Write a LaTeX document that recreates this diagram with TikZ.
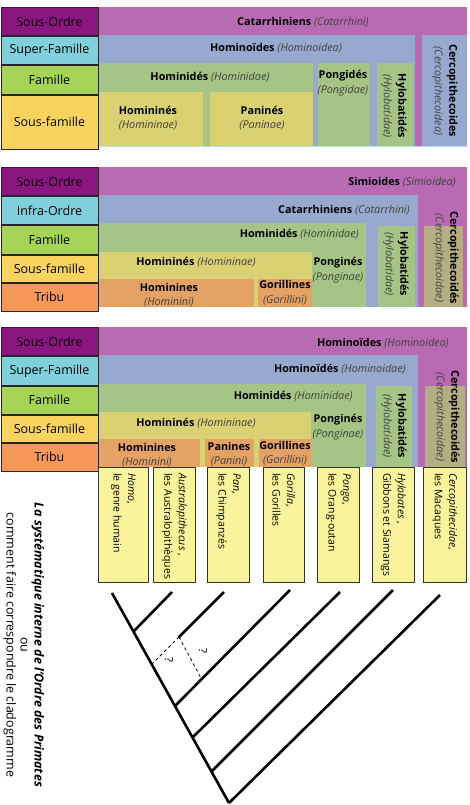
\documentclass[tikz,border=0pt]{standalone}
\usepackage{fontspec}
\setmainfont{Open Sans}
\usetikzlibrary{positioning}
\definecolor{ordrepurple}{RGB}{139,22,128}
\definecolor{superfamcyan}{RGB}{128,209,219}
\definecolor{famgreen}{RGB}{166,212,86}
\definecolor{sousfamyellow}{RGB}{248,212,94}
\definecolor{tribuorange}{RGB}{245,152,90}
\definecolor{taxpurple}{RGB}{184,106,178}
\definecolor{taxblue}{RGB}{151,169,206}
\definecolor{taxgreen}{RGB}{164,197,133}
\definecolor{taxyellow}{RGB}{217,209,114}
\definecolor{taxorange}{RGB}{228,162,100}
\definecolor{taxolive}{RGB}{181,174,130}
\definecolor{genusyellow}{RGB}{249,244,156}
\tikzset{
    rankcell/.style={rectangle, draw=black!85, fill=#1, line width=0.9pt, minimum width=97pt, minimum height=28pt, inner sep=0pt, font=\fontsize{12.5}{14}\selectfont},
    taxname/.style={font=\fontsize{10.8}{14.5}\selectfont, align=center, inner sep=1pt},
    taxvert/.style={taxname, rotate=-90},
    genusbox/.style={rectangle, draw=black!80, fill=genusyellow, line width=0.6pt, anchor=north west, minimum width=#1, minimum height=115pt, inner sep=0pt},
    genustext/.style={font=\fontsize{10.5}{14.5}\selectfont, align=left, rotate=-90, anchor=west, inner sep=0pt},
    cladeline/.style={line width=2.6pt},
    cladeguess/.style={line width=0.8pt, dashed}
}
\newcommand{\latname}[1]{\textcolor{black!75}{\textit{#1}}}

\begin{document}
\begin{tikzpicture}[x=1pt, y=-1pt]
\useasboundingbox (0,0) rectangle (469,805);

% --- tableau 1 ---
\fill[taxpurple] (97,7) rectangle (467,146);
\fill[taxblue] (97,35) rectangle (415,146);
\fill[taxblue] (422,35) rectangle (467,146);
\fill[taxgreen] (97,63) rectangle (313,146);
\fill[taxgreen] (318,63) rectangle (370,146);
\fill[taxgreen] (377,63) rectangle (413,146);
\fill[taxyellow] (97,92) rectangle (203,146);
\fill[taxyellow] (210,92) rectangle (313,146);
\draw[superfamcyan!60, line width=0.8pt] (97,146.5) -- (467,146.5);

\node[rankcell=ordrepurple, anchor=north west] (so1) at (0.5,7) {Sous-Ordre};
\node[rankcell=superfamcyan, below=0pt of so1] (sf1) {Super-Famille};
\node[rankcell=famgreen, below=0pt of sf1, minimum height=29pt] (fa1) {Famille};
\node[rankcell=sousfamyellow, below=0pt of fa1, minimum height=54pt] (sfa1) {Sous-famille};

\node[taxname] (cat1) at (303,22) {\textbf{Catarrhiniens} \latname{(Catarrhini)}};
\node[taxname] (hoid1) at (276,48) {\textbf{Hominoïdes} \latname{(Hominoidea)}};
\node[taxname] (hidae1) at (210,77) {\textbf{Hominidés} \latname{(Hominidae)}};
\node[taxname] (hinae1) at (148,118) {\textbf{Homininés}\\\latname{(Homininae)}};
\node[taxname] (pani1) at (262,118) {\textbf{Paninés}\\\latname{(Paninae)}};
\node[taxname] (pong1) at (343,83) {\textbf{Pongidés}\\\latname{(Pongidae)}};
\node[taxvert] (hylo1) at (394,106) {\textbf{Hylobatidés}\\\latname{(Hylobatidae)}};
\node[taxvert] (cerco1) at (445,91) {\textbf{Cercopithecoides}\\\latname{(Cercopithecoidea)}};

% --- tableau 2 ---
\fill[taxpurple] (97,167) rectangle (467,307);
\fill[taxblue] (97,195) rectangle (418,307);
\fill[taxgreen] (97,223) rectangle (366,307);
\fill[taxgreen] (378,226) rectangle (415,307);
\fill[taxolive] (424,226) rectangle (463,307);
\fill[taxyellow] (97,252) rectangle (312,307);
\fill[taxorange] (97,279) rectangle (254,307);
\fill[taxorange] (258,279) rectangle (312,307);

\node[rankcell=ordrepurple, anchor=north west] (so2) at (0.5,167) {Sous-Ordre};
\node[rankcell=superfamcyan, below=0pt of so2] (io2) {Infra-Ordre};
\node[rankcell=famgreen, below=0pt of io2, minimum height=29pt] (fa2) {Famille};
\node[rankcell=sousfamyellow, below=0pt of fa2, minimum height=27pt] (sfa2) {Sous-famille};
\node[rankcell=tribuorange, below=0pt of sfa2] (tr2) {Tribu};

\node[taxname, anchor=east] (simi2) at (457,182) {\textbf{Simioides} \latname{(Simioidea)}};
\node[taxname, anchor=east] (cat2) at (411,210) {\textbf{Catarrhiniens} \latname{(Catarrhini)}};
\node[taxname, anchor=east] (hidae2) at (360,234) {\textbf{Hominidés} \latname{(Hominidae)}};
\node[taxname] (hinae2) at (196,262) {\textbf{Homininés} \latname{(Homininae)}};
\node[taxname] (pong2) at (338,270) {\textbf{Ponginés}\\\latname{(Ponginae)}};
\node[taxname] (hini2) at (169,295) {\textbf{Hominines}\\\latname{(Hominini)}};
\node[taxname] (gor2) at (285,293) {\textbf{Gorillines}\\\latname{(Gorillini)}};
\node[taxvert] (hylo2) at (396,264) {\textbf{Hylobatidés}\\\latname{(Hylobatidae)}};
\node[taxvert] (cerco2) at (446,258) {\textbf{Cercopithecoidés}\\\latname{(Cercopithecoidae)}};

% --- tableau 3 ---
\fill[taxpurple] (97,327) rectangle (467,467);
\fill[taxblue] (97,355) rectangle (418,467);
\fill[taxgreen] (97,384) rectangle (366,467);
\fill[taxgreen] (376,386) rectangle (412,467);
\fill[taxolive] (425,386) rectangle (465,467);
\fill[taxyellow] (97,412) rectangle (311,467);
\fill[taxorange] (97,439) rectangle (200,467);
\fill[taxorange] (205,439) rectangle (254,467);
\fill[taxorange] (259,439) rectangle (311,467);

\node[rankcell=ordrepurple, anchor=north west] (so3) at (0.5,327) {Sous-Ordre};
\node[rankcell=superfamcyan, below=0pt of so3, minimum height=29pt] (sf3) {Super-Famille};
\node[rankcell=famgreen, below=0pt of sf3] (fa3) {Famille};
\node[rankcell=sousfamyellow, below=0pt of fa3, minimum height=27pt] (sfa3) {Sous-famille};
\node[rankcell=tribuorange, below=0pt of sfa3] (tr3) {Tribu};

\node[taxname, anchor=east] (hoid3) at (450,343) {\textbf{Hominoïdes} \latname{(Hominoidea)}};
\node[taxname, anchor=east] (hoidae3) at (407,369) {\textbf{Hominoïdés} \latname{(Hominoidae)}};
\node[taxname, anchor=east] (hidae3) at (354,396) {\textbf{Hominidés} \latname{(Hominidae)}};
\node[taxname] (hinae3) at (196,423) {\textbf{Homininés} \latname{(Homininae)}};
\node[taxname] (pong3) at (338,427) {\textbf{Ponginés}\\\latname{(Ponginae)}};
\node[taxname] (hini3) at (147,455) {\textbf{Hominines}\\\latname{(Hominini)}};
\node[taxname] (pani3) at (229,454) {\textbf{Panines}\\\latname{(Panini)}};
\node[taxname] (gor3) at (285,453) {\textbf{Gorillines}\\\latname{(Gorillini)}};
\node[taxvert] (hylo3) at (394,426) {\textbf{Hylobatidés}\\\latname{(Hylobatidae)}};
\node[taxvert] (cerco3) at (447,417) {\textbf{Cercopithecoidés}\\\latname{(Cercopithecoidae)}};

% --- genres ---
\node[genusbox=50pt] (homo) at (98,467) {};
\node[genusbox=42pt] (austra) at (153,467) {};
\node[genusbox=42pt] (pan) at (207,467) {};
\node[genusbox=41pt] (gorilla) at (263,467) {};
\node[genusbox=42pt] (pongo) at (317,467) {};
\node[genusbox=42pt] (hylob) at (372,467) {};
\node[genusbox=43pt] (cercop) at (423,467) {};

\node[genustext] (homot) at ([yshift=-6pt]homo.north) {\textit{Homo},\\le genre humain};
\node[genustext] (austrat) at ([yshift=-6pt]austra.north) {\textit{Australopithecus} ,\\les Australopithèques};
\node[genustext] (pant) at ([yshift=-6pt]pan.north) {\textit{Pan},\\les Chimpanzés};
\node[genustext] (gorillat) at ([yshift=-6pt]gorilla.north) {\textit{Gorilla},\\les Gorilles};
\node[genustext] (pongot) at ([yshift=-6pt]pongo.north) {\textit{Pongo},\\les Orang-outan};
\node[genustext] (hylobt) at ([yshift=-6pt]hylob.north) {\textit{Hylobates} ,\\Gibbons et Siamangs};
\node[genustext] (cercopt) at ([yshift=-6pt]cercop.north) {\textit{Cercopithecidae},\\les Macaques};

% --- titre ---
\node[font=\fontsize{12.5}{14}\selectfont, align=center, rotate=-90] (titre) at (24,645) {\textbf{\textit{La systématique interne de l'Ordre des Primates}}\\ou\\comment faire correspondre le cladogramme};

% --- cladogramme ---
\coordinate (thomo) at (112,593);
\coordinate (taus) at (172,592);
\coordinate (tpan) at (224,592);
\coordinate (tgor) at (290,590);
\coordinate (tpon) at (340,592);
\coordinate (thyl) at (393,590);
\coordinate (tcer) at (440,595);
\coordinate (naus) at (134,631);
\coordinate (ngor) at (175,706);
\coordinate (npon) at (193,737);
\coordinate (nhyl) at (211,772);
\coordinate (racine) at (229,803);
\coordinate (epan) at (179,637);
\coordinate (dpan) at (152,664);
\coordinate (dgor) at (201,678);

\draw[cladeline] (thomo) -- (racine);
\draw[cladeline] (taus) -- (naus);
\draw[cladeline] (tpan) -- (epan);
\draw[cladeline] (tgor) -- (ngor);
\draw[cladeline] (tpon) -- (npon);
\draw[cladeline] (thyl) -- (nhyl);
\draw[cladeline] (tcer) -- (racine);
\draw[cladeguess] (epan) -- (dpan);
\draw[cladeguess] (epan) -- (dgor);
\node[rotate=-90, font=\fontsize{11.5}{12}\selectfont] (qa) at (169,660) {?};
\node[rotate=-90, font=\fontsize{11.5}{12}\selectfont] (qb) at (203,651) {?};

\end{tikzpicture}
\end{document}
